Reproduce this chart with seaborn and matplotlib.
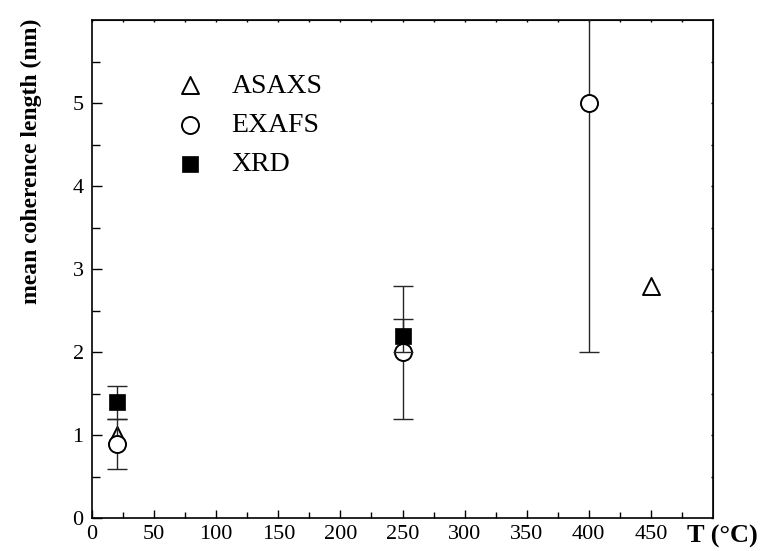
import numpy as np
import pandas as pd
import matplotlib
matplotlib.use('Agg')
import matplotlib.pyplot as plt
import seaborn as sns

## data
temp_asaxs = [20, 450]
len_asaxs = [1.0, 2.8]

temp_exafs = [20, 250, 400]
len_exafs = [0.9, 2.0, 5.0]
err_exafs = [0.3, 0.8, 3.0]

temp_xrd = [20, 250]
len_xrd = [1.4, 2.2]
err_xrd = [0.2, 0.2]

sns.set_style('ticks')
plt.rcParams['font.family'] = ['Liberation Serif', 'DejaVu Serif']
plt.rcParams.update({'text.color': 'black', 'axes.labelcolor': 'black',
                     'xtick.color': 'black', 'ytick.color': 'black'})

fig = plt.figure(figsize=(7.65, 5.51), dpi=100)
ax = fig.add_axes([0.1203, 0.059, 0.8117, 0.904])

df_a = pd.DataFrame({'T': temp_asaxs, 'L': len_asaxs})
df_e = pd.DataFrame({'T': temp_exafs, 'L': len_exafs})
df_x = pd.DataFrame({'T': temp_xrd, 'L': len_xrd})

sns.scatterplot(data=df_a, x='T', y='L', marker='^', s=150, color='white',
                edgecolor='black', linewidth=1.4, ax=ax, label='ASAXS', zorder=2)
ax.errorbar(temp_exafs, len_exafs, yerr=err_exafs, fmt='none', ecolor='0.15',
            elinewidth=1.0, capsize=7, capthick=1.0, zorder=3)
sns.scatterplot(data=df_e, x='T', y='L', marker='o', s=150, color='white',
                edgecolor='black', linewidth=1.4, ax=ax, label='EXAFS', zorder=4)
ax.errorbar(temp_xrd, len_xrd, yerr=err_xrd, fmt='none', ecolor='0.15',
            elinewidth=1.0, capsize=7, capthick=1.0, zorder=5)
sns.scatterplot(data=df_x, x='T', y='L', marker='s', s=140, color='black',
                edgecolor='black', linewidth=0.5, ax=ax, label='XRD', zorder=6)

ax.set_xlim(0, 500)
ax.set_ylim(0, 6)
xmaj = np.arange(0, 451, 50)
xmin = np.arange(25, 500, 50)
ymaj = np.arange(0, 6, 1)
ymin = np.arange(0.5, 6, 1)
ax.set_xticks(xmaj)
ax.set_xticks(xmin, minor=True)
ax.set_yticks(ymaj)
ax.set_yticks(ymin, minor=True)
ax.tick_params(axis='both', which='both', direction='in', labelsize=16,
               width=1.0, color='black', labelcolor='black')
ax.tick_params(axis='x', which='major', length=6, pad=5)
ax.tick_params(axis='x', which='minor', length=4)
ax.tick_params(axis='y', which='major', length=7, pad=6)
ax.tick_params(axis='y', which='minor', length=5.5)
for sp in ax.spines.values():
    sp.set_linewidth(1.2)
    sp.set_color('black')

## tiny ticks on the top and right frame
top = ax.secondary_xaxis('top')
top.set_xticks(np.concatenate([xmaj, xmin]))
top.tick_params(direction='in', length=1.5, width=1.0, labeltop=False)
right = ax.secondary_yaxis('right')
right.set_yticks(np.concatenate([ymaj, ymin]))
right.tick_params(direction='in', length=1.5, width=1.0, labelright=False)

ax.set_xlabel('')
ax.set_ylabel('mean coherence length (nm)', fontsize=17, fontweight='bold')
ax.yaxis.set_label_coords(-0.08, 0.718)
ax.text(1.0145, -0.036, 'T (°C)', transform=ax.transAxes, ha='center', va='center',
        fontsize=19, fontweight='bold')

leg = ax.legend(loc='upper left', bbox_to_anchor=(0.135, 0.894), frameon=False,
                fontsize=20, handlelength=1.0, handletextpad=1.0,
                labelspacing=0.5, borderpad=0, borderaxespad=0)

fig.savefig('out.png', dpi=100)
